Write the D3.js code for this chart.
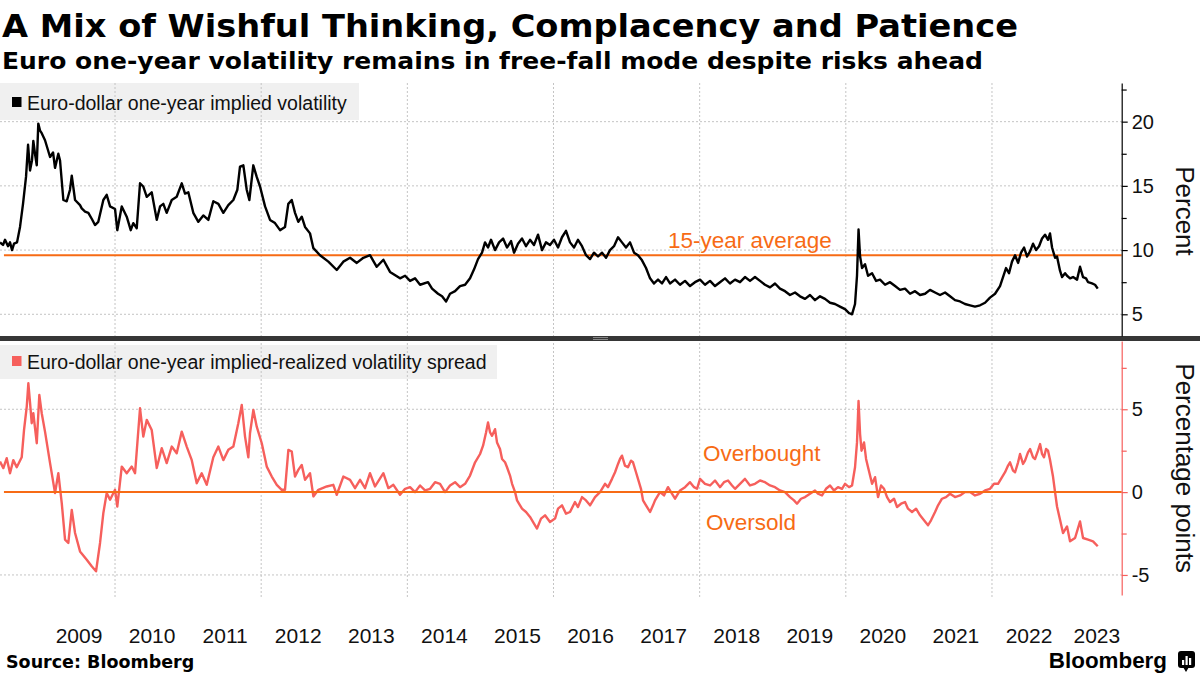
<!DOCTYPE html>
<html><head><meta charset="utf-8">
<script src="https://cdn.jsdelivr.net/npm/d3@7"></script>
<style>
html,body{margin:0;padding:0;background:#fff;}
svg{display:block;}
</style></head><body>
<svg id="chart" width="1200" height="675"></svg>
<script>
// ---------------- DATA ----------------
// [decimal year, percent]
const volSeries = [
[2008.426,10.6],[2008.467,10.4],[2008.495,10.8],[2008.536,10.3],[2008.563,10.6],[2008.591,10.0],[2008.618,10.5],[2008.659,10.6],
[2008.700,11.8],[2008.741,13.6],[2008.782,15.7],[2008.810,18.2],[2008.837,16.2],[2008.864,17.0],[2008.882,18.5],[2008.905,17.5],
[2008.929,16.6],[2008.950,19.85],[2008.974,19.3],[2008.997,19.1],[2009.042,18.55],[2009.111,17.25],[2009.152,17.6],[2009.179,16.4],
[2009.224,17.5],[2009.247,17.0],[2009.293,13.9],[2009.339,13.8],[2009.384,14.7],[2009.408,15.8],[2009.453,13.9],[2009.521,13.5],
[2009.544,13.25],[2009.590,13.0],[2009.635,12.9],[2009.685,12.4],[2009.726,11.95],[2009.771,12.2],[2009.840,13.9],[2009.886,14.3],
[2009.932,13.4],[2010.000,13.2],[2010.031,11.55],[2010.092,13.4],[2010.160,12.6],[2010.215,11.55],[2010.250,12.1],[2010.297,11.7],
[2010.342,15.2],[2010.387,14.95],[2010.434,14.15],[2010.502,14.5],[2010.571,12.35],[2010.616,13.4],[2010.661,13.6],[2010.707,12.9],
[2010.776,13.9],[2010.844,14.15],[2010.913,15.2],[2010.958,14.4],[2011.003,14.5],[2011.071,12.9],[2011.140,12.2],[2011.208,12.7],
[2011.277,12.35],[2011.345,13.8],[2011.414,13.6],[2011.482,12.9],[2011.550,13.5],[2011.619,13.9],[2011.674,14.7],[2011.710,16.5],
[2011.756,16.6],[2011.802,14.7],[2011.838,13.9],[2011.892,16.6],[2011.939,15.7],[2011.984,14.95],[2012.053,13.4],[2012.121,12.35],
[2012.189,12.1],[2012.258,11.55],[2012.326,11.8],[2012.371,13.6],[2012.418,13.9],[2012.463,12.9],[2012.508,12.2],[2012.555,12.6],
[2012.600,11.8],[2012.668,11.3],[2012.714,10.15],[2012.805,9.6],[2012.919,9.1],[2013.034,8.45],[2013.124,9.1],[2013.216,9.4],
[2013.308,9.0],[2013.398,9.4],[2013.489,9.6],[2013.581,8.7],[2013.672,9.25],[2013.763,8.3],[2013.900,7.8],[2013.969,8.0],
[2014.037,7.6],[2014.105,7.8],[2014.174,7.3],[2014.283,7.5],[2014.338,7.0],[2014.420,6.6],[2014.475,6.4],[2014.530,6.0],
[2014.584,6.6],[2014.653,6.8],[2014.721,7.2],[2014.790,7.3],[2014.858,7.8],[2014.913,8.5],[2014.967,9.3],[2015.022,9.8],
[2015.063,10.6],[2015.104,10.2],[2015.145,10.8],[2015.200,10.0],[2015.255,10.6],[2015.310,10.9],[2015.364,10.2],[2015.419,10.7],
[2015.460,9.8],[2015.514,10.5],[2015.569,10.9],[2015.624,10.3],[2015.679,10.8],[2015.733,10.4],[2015.788,11.2],[2015.843,10.0],
[2015.897,10.6],[2015.952,10.4],[2016.007,10.8],[2016.062,10.2],[2016.116,11.0],[2016.171,11.5],[2016.226,10.6],[2016.281,10.2],
[2016.335,10.8],[2016.390,10.3],[2016.445,9.6],[2016.500,9.3],[2016.554,9.8],[2016.609,9.5],[2016.664,9.8],[2016.719,9.4],
[2016.773,10.0],[2016.828,10.3],[2016.883,11.0],[2016.937,10.6],[2016.992,10.2],[2017.047,10.6],[2017.102,9.8],[2017.156,9.6],
[2017.211,9.2],[2017.266,8.6],[2017.321,7.8],[2017.375,7.4],[2017.430,7.7],[2017.485,7.4],[2017.540,7.9],[2017.594,7.4],
[2017.663,7.7],[2017.731,7.3],[2017.800,7.6],[2017.868,7.2],[2017.936,7.5],[2018.005,7.7],[2018.073,7.3],[2018.142,7.6],
[2018.210,7.2],[2018.278,7.5],[2018.347,7.8],[2018.415,7.4],[2018.484,7.7],[2018.552,7.5],[2018.620,7.9],[2018.689,7.6],
[2018.757,7.9],[2018.826,7.6],[2018.894,7.3],[2018.963,7.1],[2019.031,7.4],[2019.099,7.0],[2019.168,6.8],[2019.236,6.5],
[2019.305,6.7],[2019.373,6.4],[2019.442,6.2],[2019.510,6.5],[2019.578,6.1],[2019.647,6.4],[2019.715,6.2],[2019.784,5.9],
[2019.852,5.8],[2019.920,5.6],[2019.989,5.4],[2020.044,5.1],[2020.085,5.0],[2020.126,5.8],[2020.153,8.0],[2020.174,11.6],
[2020.195,9.5],[2020.222,8.6],[2020.263,8.9],[2020.304,8.0],[2020.359,8.2],[2020.414,7.6],[2020.468,7.7],[2020.537,7.3],
[2020.605,7.5],[2020.674,7.2],[2020.742,6.9],[2020.810,7.0],[2020.879,6.6],[2020.947,6.8],[2021.016,6.5],[2021.084,6.6],
[2021.152,6.9],[2021.221,6.7],[2021.289,6.5],[2021.358,6.7],[2021.426,6.4],[2021.494,6.1],[2021.563,6.0],[2021.631,5.8],
[2021.700,5.7],[2021.768,5.6],[2021.837,5.7],[2021.905,5.9],[2021.973,6.3],[2022.042,6.6],[2022.110,7.2],[2022.151,7.9],
[2022.192,8.6],[2022.233,8.2],[2022.274,9.1],[2022.316,9.6],[2022.357,9.0],[2022.398,9.8],[2022.439,10.2],[2022.480,9.5],
[2022.521,9.9],[2022.562,10.5],[2022.603,10.0],[2022.644,10.3],[2022.685,10.9],[2022.726,11.2],[2022.767,10.8],[2022.794,11.3],
[2022.822,10.2],[2022.863,9.4],[2022.890,9.5],[2022.931,8.4],[2022.959,7.9],[2023.000,8.2],[2023.027,8.0],[2023.068,7.8],
[2023.109,7.9],[2023.164,7.7],[2023.205,8.7],[2023.246,7.9],[2023.287,7.8],[2023.315,7.5],[2023.369,7.4],[2023.410,7.3],
[2023.447,7.0]
];
// [decimal year, percentage points]
const spreadSeries = [
[2008.426,1.84],[2008.472,1.45],[2008.518,2.05],[2008.563,1.14],[2008.608,1.93],[2008.655,1.5],[2008.723,2.1],[2008.755,3.75],
[2008.792,5.16],[2008.814,6.57],[2008.837,5.4],[2008.860,4.16],[2008.882,4.76],[2008.929,2.95],[2008.964,5.86],[2008.997,4.76],
[2009.042,3.65],[2009.111,1.75],[2009.179,-0.06],[2009.224,1.14],[2009.271,-0.66],[2009.316,-2.87],[2009.361,-3.07],[2009.408,-1.07],
[2009.453,-2.47],[2009.521,-3.58],[2009.613,-4.08],[2009.681,-4.48],[2009.740,-4.78],[2009.795,-3.07],[2009.840,-1.27],[2009.886,-0.06],
[2009.932,-0.46],[2010.000,0.14],[2010.031,-0.87],[2010.092,1.54],[2010.160,1.14],[2010.229,1.54],[2010.274,1.14],[2010.342,5.06],
[2010.387,3.35],[2010.434,4.36],[2010.502,3.75],[2010.571,1.45],[2010.639,2.65],[2010.707,1.75],[2010.776,2.75],[2010.844,2.35],
[2010.913,3.65],[2010.981,2.75],[2011.050,1.93],[2011.118,0.54],[2011.186,1.14],[2011.255,0.44],[2011.345,2.1],[2011.414,2.75],
[2011.482,1.93],[2011.550,2.55],[2011.619,2.75],[2011.687,4.16],[2011.734,5.26],[2011.779,3.35],[2011.824,2.1],[2011.847,3.55],
[2011.893,4.96],[2011.939,3.95],[2012.008,2.95],[2012.076,1.54],[2012.145,0.94],[2012.213,0.44],[2012.281,0.14],[2012.326,0.14],
[2012.372,2.55],[2012.418,2.45],[2012.463,0.94],[2012.508,1.34],[2012.555,1.64],[2012.600,0.74],[2012.668,1.14],[2012.714,-0.26],
[2012.782,0.14],[2012.897,0.34],[2012.987,0.44],[2013.034,-0.16],[2013.124,0.94],[2013.216,0.74],[2013.284,0.24],[2013.353,0.74],
[2013.421,0.24],[2013.489,1.14],[2013.558,0.34],[2013.672,1.14],[2013.740,0.24],[2013.809,0.44],[2013.900,-0.16],[2013.969,0.2],
[2014.037,0.3],[2014.105,0.0],[2014.174,0.4],[2014.242,0.1],[2014.311,0.2],[2014.379,0.6],[2014.447,0.5],[2014.516,0.0],
[2014.584,0.4],[2014.653,0.6],[2014.721,0.3],[2014.790,0.5],[2014.858,1.0],[2014.927,1.8],[2014.995,2.3],[2015.036,2.8],
[2015.077,3.6],[2015.104,4.2],[2015.132,3.6],[2015.159,3.4],[2015.200,3.8],[2015.227,3.0],[2015.268,2.6],[2015.296,2.0],
[2015.337,1.8],[2015.364,1.5],[2015.405,1.0],[2015.433,0.5],[2015.474,0.0],[2015.501,-0.5],[2015.542,-0.8],[2015.569,-1.0],
[2015.624,-1.2],[2015.679,-1.5],[2015.733,-1.9],[2015.774,-2.2],[2015.829,-1.6],[2015.884,-1.4],[2015.952,-1.8],[2016.021,-1.6],
[2016.062,-1.0],[2016.116,-0.8],[2016.171,-1.3],[2016.226,-1.2],[2016.294,-0.6],[2016.335,-0.9],[2016.390,-0.3],[2016.445,-0.5],
[2016.500,-0.8],[2016.568,-0.3],[2016.637,0.0],[2016.705,0.5],[2016.746,0.3],[2016.801,0.8],[2016.842,1.2],[2016.883,1.7],
[2016.910,2.0],[2016.937,2.2],[2016.978,1.6],[2017.019,1.5],[2017.060,1.9],[2017.088,1.8],[2017.129,1.2],[2017.156,0.8],
[2017.197,0.2],[2017.225,-0.5],[2017.266,-0.8],[2017.321,-1.2],[2017.362,-0.8],[2017.389,-0.5],[2017.457,0.0],[2017.512,-0.2],
[2017.567,0.3],[2017.608,0.0],[2017.663,-0.4],[2017.731,0.1],[2017.800,0.3],[2017.868,0.6],[2017.923,0.3],[2017.964,0.2],
[2018.005,0.8],[2018.073,0.5],[2018.142,0.4],[2018.210,0.7],[2018.278,0.3],[2018.333,0.6],[2018.388,0.7],[2018.443,0.4],
[2018.484,0.2],[2018.552,0.5],[2018.620,0.8],[2018.689,0.4],[2018.757,0.5],[2018.826,0.7],[2018.894,0.6],[2018.963,0.4],
[2019.031,0.3],[2019.099,0.1],[2019.168,0.0],[2019.236,-0.3],[2019.291,-0.5],[2019.332,-0.7],[2019.387,-0.4],[2019.442,-0.3],
[2019.510,-0.1],[2019.578,0.1],[2019.619,-0.1],[2019.674,-0.2],[2019.729,0.2],[2019.784,0.4],[2019.838,0.1],[2019.893,0.3],
[2019.948,0.2],[2019.989,0.5],[2020.044,0.3],[2020.085,0.4],[2020.126,1.5],[2020.153,3.0],[2020.174,5.5],[2020.195,3.5],
[2020.215,2.5],[2020.249,3.0],[2020.277,2.0],[2020.304,1.5],[2020.359,0.5],[2020.400,0.9],[2020.441,-0.3],[2020.482,0.4],
[2020.523,0.2],[2020.564,-0.3],[2020.605,-0.6],[2020.660,-0.4],[2020.701,-0.9],[2020.756,-0.7],[2020.810,-0.6],[2020.851,-1.0],
[2020.906,-1.2],[2020.961,-1.0],[2021.016,-1.4],[2021.070,-1.7],[2021.125,-2.0],[2021.166,-1.7],[2021.221,-1.2],[2021.262,-0.8],
[2021.316,-0.4],[2021.371,-0.3],[2021.426,-0.1],[2021.494,-0.3],[2021.563,-0.2],[2021.631,0.0],[2021.700,0.0],[2021.768,-0.2],
[2021.837,-0.1],[2021.905,0.1],[2021.973,0.2],[2022.028,0.5],[2022.083,0.5],[2022.138,0.9],[2022.179,1.2],[2022.220,1.6],
[2022.247,1.8],[2022.288,1.3],[2022.316,1.2],[2022.357,1.8],[2022.384,2.3],[2022.425,1.7],[2022.452,1.9],[2022.493,2.4],
[2022.521,2.6],[2022.562,2.1],[2022.589,2.0],[2022.630,2.5],[2022.658,2.9],[2022.685,2.3],[2022.712,2.1],[2022.740,2.6],
[2022.767,2.5],[2022.794,1.95],[2022.835,0.94],[2022.863,0.0],[2022.890,-0.87],[2022.931,-1.67],[2022.972,-2.47],[2023.027,-2.07],
[2023.068,-2.97],[2023.137,-2.77],[2023.205,-1.77],[2023.246,-2.77],[2023.315,-2.87],[2023.383,-2.97],[2023.447,-3.27]
];
const yearLabels = ["2009","2010","2011","2012","2013","2014","2015","2016","2017","2018","2019","2020","2021","2022","2023"];
const gridYears = [2010,2012,2014,2016,2018,2020,2022];
const volTicks = [5,10,15,20];
const volMinorTicks = [7.5,12.5,17.5,22.5];
const spreadTicks = [-5,0,5];
const spreadMinorTicks = [-2.5,2.5,7.5];
const spreadGrid = [-5,5];
const averageVol = 9.6;

// ---------------- STYLE ----------------
const FONT = "'Liberation Sans', Arial, sans-serif";
const BOLD = "'DejaVu Sans', Verdana, sans-serif";
const ORANGE = "#f76b15";
const RED = "#f65f5c";
const GRID = "#c4c4c4";

const svg = d3.select("#chart");
svg.append("rect").attr("width",1200).attr("height",675).attr("fill","#fff");

const plotRight = 1121.7;
const x = d3.scaleLinear().domain([2008.426, 2023.775]).range([0, plotRight]);
const yTop = d3.scaleLinear().domain([3.31, 23.01]).range([336, 83]);
const yBot = d3.scaleLinear().domain([-6.21, 9.12]).range([595, 341]);

// Titles
svg.append("text").attr("x",2).attr("y",37).attr("font-family",BOLD).attr("font-weight","bold")
  .attr("font-size",32).attr("textLength",1016).attr("lengthAdjust","spacingAndGlyphs").attr("fill","#000")
  .text("A Mix of Wishful Thinking, Complacency and Patience");
svg.append("text").attr("x",2).attr("y",68.5).attr("font-family",BOLD).attr("font-weight","bold")
  .attr("font-size",22.5).attr("textLength",981).attr("lengthAdjust","spacingAndGlyphs").attr("fill","#000")
  .text("Euro one-year volatility remains in free-fall mode despite risks ahead");

// Legend boxes
svg.append("rect").attr("x",0).attr("y",83).attr("width",359).attr("height",37).attr("fill","#f0f0f0");
svg.append("rect").attr("x",12).attr("y",97).attr("width",9.5).attr("height",10).attr("fill","#000");
svg.append("text").attr("x",27).attr("y",110).attr("font-family",FONT).attr("font-size",19.5).attr("fill","#111")
  .text("Euro-dollar one-year implied volatility");
svg.append("rect").attr("x",0).attr("y",345).attr("width",497).attr("height",34).attr("fill","#f0f0f0");
svg.append("rect").attr("x",12).attr("y",356).attr("width",9.5).attr("height",10).attr("fill",RED);
svg.append("text").attr("x",27).attr("y",368.5).attr("font-family",FONT).attr("font-size",19.5).attr("fill","#111")
  .text("Euro-dollar one-year implied-realized volatility spread");

// Grid
const grid = svg.append("g").attr("stroke",GRID).attr("stroke-width",1).attr("stroke-dasharray","2,2");
grid.selectAll("line.v").data(gridYears).join("line").attr("class","v")
  .attr("x1",d=>x(d)).attr("x2",d=>x(d)).attr("y1",yTop.range()[1]).attr("y2",597);
grid.selectAll("line.ht").data(volTicks).join("line").attr("class","ht")
  .attr("x1",0).attr("x2",plotRight).attr("y1",d=>yTop(d)).attr("y2",d=>yTop(d));
grid.selectAll("line.hb").data(spreadGrid).join("line").attr("class","hb")
  .attr("x1",0).attr("x2",plotRight).attr("y1",d=>yBot(d)).attr("y2",d=>yBot(d));

// Average line (top)
svg.append("line").attr("x1",x(2008.48)).attr("x2",plotRight)
  .attr("y1",yTop(averageVol)).attr("y2",yTop(averageVol)).attr("stroke",ORANGE).attr("stroke-width",2);

// Series
const lineTop = d3.line().x(d=>x(d[0])).y(d=>yTop(d[1]));
svg.append("path").datum(volSeries).attr("d",lineTop).attr("fill","none")
  .attr("stroke","#000").attr("stroke-width",2.4).attr("stroke-linejoin","round");
const lineBot = d3.line().x(d=>x(d[0])).y(d=>yBot(d[1]));
svg.append("path").datum(spreadSeries).attr("d",lineBot).attr("fill","none")
  .attr("stroke",RED).attr("stroke-width",2.4).attr("stroke-linejoin","round");

// Zero line (bottom)
svg.append("line").attr("x1",x(2008.48)).attr("x2",plotRight)
  .attr("y1",yBot(0)).attr("y2",yBot(0)).attr("stroke",ORANGE).attr("stroke-width",2);

// Annotations
const ann = [
  {t:"15-year average", yr:2017.567, v:10.17, s:yTop},
  {t:"Overbought", yr:2018.046, v:1.89, s:yBot},
  {t:"Oversold", yr:2018.087, v:-2.28, s:yBot}
];
svg.selectAll("text.ann").data(ann).join("text").attr("class","ann")
  .attr("x",d=>x(d.yr)).attr("y",d=>d.s(d.v)).attr("font-family",FONT).attr("font-size",22.5)
  .attr("fill",ORANGE).text(d=>d.t);

// Divider
svg.append("rect").attr("x",0).attr("y",336).attr("width",1200).attr("height",5).attr("fill","#363636");
svg.append("line").attr("x1",593).attr("x2",608).attr("y1",337.5).attr("y2",337.5).attr("stroke","#9a9a9a").attr("stroke-width",0.8);
svg.append("line").attr("x1",593).attr("x2",608).attr("y1",339.5).attr("y2",339.5).attr("stroke","#9a9a9a").attr("stroke-width",0.8);

// Right axes
function styleAxis(g, color){
  g.select(".domain").attr("stroke",color).attr("stroke-width",1.2);
  g.selectAll(".tick line").attr("stroke",color).attr("stroke-width",1.2);
  g.selectAll(".tick text").attr("font-family",FONT).attr("font-size",20).attr("fill","#111");
}
const axTop = svg.append("g").attr("transform",`translate(${plotRight},0)`)
  .call(d3.axisRight(yTop).tickValues(volTicks).tickSize(6).tickSizeOuter(0).tickPadding(4).tickFormat(d=>String(d)));
styleAxis(axTop,"#000");
const axTopMinor = svg.append("g").attr("transform",`translate(${plotRight},0)`)
  .call(d3.axisRight(yTop).tickValues(volMinorTicks).tickSize(5).tickSizeOuter(0).tickFormat(""));
axTopMinor.select(".domain").remove();
axTopMinor.selectAll(".tick line").attr("stroke","#000").attr("stroke-width",1.2);

const axBot = svg.append("g").attr("transform",`translate(${plotRight},0)`)
  .call(d3.axisRight(yBot).tickValues(spreadTicks).tickSize(6).tickSizeOuter(0).tickPadding(4).tickFormat(d=>String(d)));
styleAxis(axBot,RED);
const axBotMinor = svg.append("g").attr("transform",`translate(${plotRight},0)`)
  .call(d3.axisRight(yBot).tickValues(spreadMinorTicks).tickSize(5).tickSizeOuter(0).tickFormat(""));
axBotMinor.select(".domain").remove();
axBotMinor.selectAll(".tick line").attr("stroke",RED).attr("stroke-width",1.2);

// Axis titles
svg.append("text").attr("transform",`translate(1185,${(yTop(volTicks[0])+yTop(volTicks[3]))/2 - 7}) rotate(90)`)
  .attr("text-anchor","middle").attr("dominant-baseline","central").attr("font-family",FONT).attr("font-size",26)
  .attr("fill","#111").text("Percent");
svg.append("text").attr("transform",`translate(1185,${yBot(0)-24}) rotate(90)`)
  .attr("text-anchor","middle").attr("dominant-baseline","central").attr("font-family",FONT).attr("font-size",26)
  .attr("fill","#111").text("Percentage points");

// X axis (year labels at mid-year)
const axX = svg.append("g").attr("transform","translate(0,628)")
  .call(d3.axisBottom(x).tickValues(yearLabels.map(y=>+y+0.5)).tickSize(0).tickPadding(0).tickFormat(d=>String(Math.floor(d))));
axX.select(".domain").remove();
axX.selectAll(".tick text").attr("font-family",FONT).attr("font-size",21).attr("fill","#111");
axX.selectAll(".tick").each(function(d){
  const t = d3.select(this).select("text");
  const w = t.node().getComputedTextLength();
  const cx = x(d);
  const maxC = plotRight - w/2 - 2;
  if (cx > maxC) t.attr("x", maxC - cx);
});

// Footer
svg.append("text").attr("x",6).attr("y",668).attr("font-family",BOLD).attr("font-weight","bold")
  .attr("font-size",17.5).attr("fill","#000").text("Source: Bloomberg");
svg.append("text").attr("x",1167).attr("y",668).attr("text-anchor","end").attr("font-family",FONT)
  .attr("font-weight","bold").attr("font-size",22.4).attr("fill","#000").text("Bloomberg");
const logo = svg.append("g");
logo.append("rect").attr("x",1178).attr("y",651).attr("width",17).attr("height",17).attr("rx",3).attr("fill","#000");
logo.append("path").attr("d","M1183,667 L1189,667 L1186,672 Z").attr("fill","#000");
[[1182,660,2.2,5],[1185.5,656,2.2,9],[1189,658,2.2,7]].forEach(b=>{
  logo.append("rect").attr("x",b[0]).attr("y",b[1]).attr("width",b[2]).attr("height",b[3]).attr("fill","#fff");
});
</script>
</body></html>
